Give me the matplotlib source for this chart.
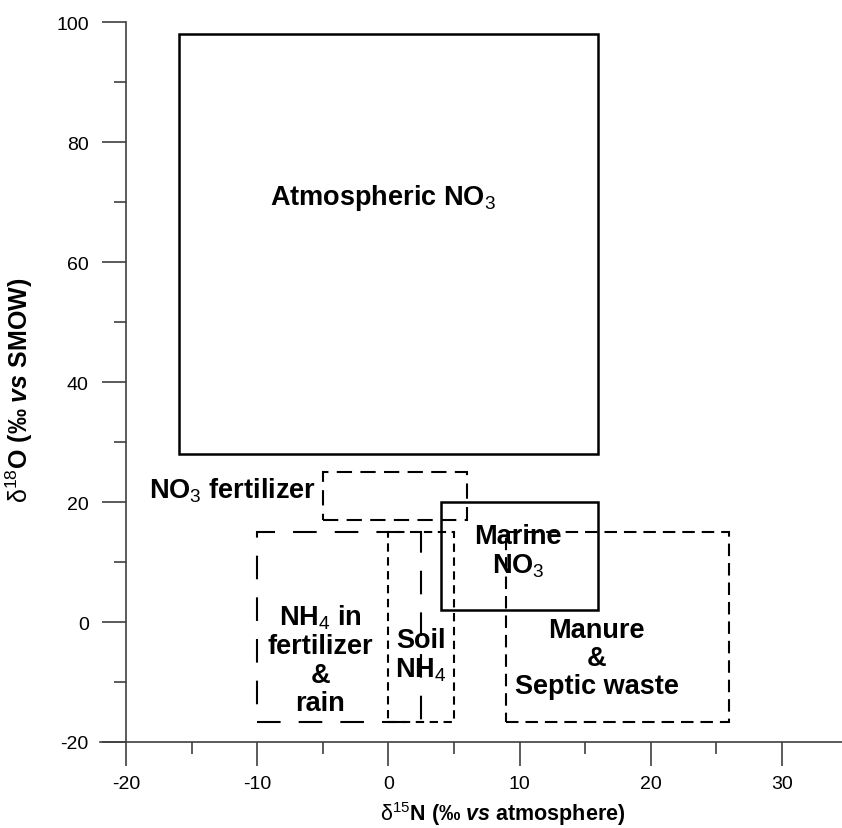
import matplotlib.pyplot as plt
from matplotlib.patches import Rectangle
from matplotlib.ticker import MultipleLocator

plt.rcParams['font.family'] = ['Liberation Sans', 'DejaVu Sans']
plt.rcParams['mathtext.fontset'] = 'custom'
plt.rcParams['mathtext.rm'] = 'Liberation Sans'
plt.rcParams['mathtext.it'] = 'Liberation Sans:italic'
plt.rcParams['mathtext.bf'] = 'Liberation Sans:bold'
plt.rcParams['mathtext.bfit'] = 'Liberation Sans:italic:bold'
plt.rcParams['mathtext.default'] = 'rm'
plt.rcParams['lines.scale_dashes'] = False
plt.rcParams['axes.unicode_minus'] = False

# Поля источников нитратов: x (d15N) и y (d18O)
box_x0 = [-16, -5, 4, -10, 0, 9]
box_x1 = [16, 6, 16, 2.5, 5, 26]
box_y0 = [28, 17, 2, -16.7, -16.7, -16.7]
box_y1 = [98, 25, 20, 15, 15, 15]

# Подписи полей
labels = ['Atmospheric NO$_3$', 'NO$_3$ fertilizer', 'Marine\nNO$_3$',
          'NH$_4$ in\nfertilizer\n&\nrain', 'Soil\nNH$_4$', 'Manure\n&\nSeptic waste']
label_x = [-0.4, -5.5, 9.9, -5.2, 2.5, 15.9]
label_y = [70.8, 22, 11.8, -6.2, -5.5, -6]

# стиль линий: None - сплошная
dashes = [None, (11, 6), None, (17, 13), (6, 4), (9, 5)]
ha = ['center', 'right', 'center', 'center', 'center', 'center']

fig = plt.figure(figsize=(8.42, 8.29), dpi=100)
ax = fig.add_axes([100 / 842, 1 - 743 / 829, 742 / 842, 720 / 829])

for i in range(len(box_x0)):
    r = Rectangle((box_x0[i], box_y0[i]), box_x1[i] - box_x0[i], box_y1[i] - box_y0[i],
                  fill=False, edgecolor='black', linewidth=1.8 if dashes[i] is None else 1.5)
    if dashes[i] is not None:
        r.set_linestyle((0, dashes[i]))
    ax.add_patch(r)

for i in range(len(labels)):
    ax.text(label_x[i], label_y[i], labels[i], ha=ha[i], va='center',
            fontsize=19.5, fontweight='bold', linespacing=1.12, multialignment='center')

ax.set_xlim(-22, 34.6)
ax.set_ylim(-20, 100)
ax.spines['top'].set_visible(False)
ax.spines['right'].set_visible(False)
ax.spines['left'].set_position(('data', -20))
for s in ['left', 'bottom']:
    ax.spines[s].set_color('#404040')
    ax.spines[s].set_linewidth(1.2)

ax.xaxis.set_major_locator(MultipleLocator(10))
ax.xaxis.set_minor_locator(MultipleLocator(5))
ax.yaxis.set_major_locator(MultipleLocator(20))
ax.yaxis.set_minor_locator(MultipleLocator(10))
ax.tick_params(which='major', direction='out', length=17, width=1.2, color='#404040', labelsize=14)
ax.tick_params(which='minor', direction='out', length=8.5, width=1.2, color='#404040')
ax.tick_params(axis='x', which='major', pad=7)
ax.tick_params(axis='y', which='major', pad=10)

ax.set_xlabel('$\\mathrm{δ}^{15}$N (‰ $\\mathbfit{vs}$ atmosphere)', fontsize=15.5, fontweight='bold')
ax.set_ylabel('$\\mathrm{δ}^{18}$O (‰ $\\mathbfit{vs}$ SMOW)', fontsize=18, fontweight='bold')
ax.xaxis.set_label_coords(0.543, -0.079)
ax.yaxis.set_label_coords(-0.087, 0.49)

fig.savefig('out.png', dpi=100)
